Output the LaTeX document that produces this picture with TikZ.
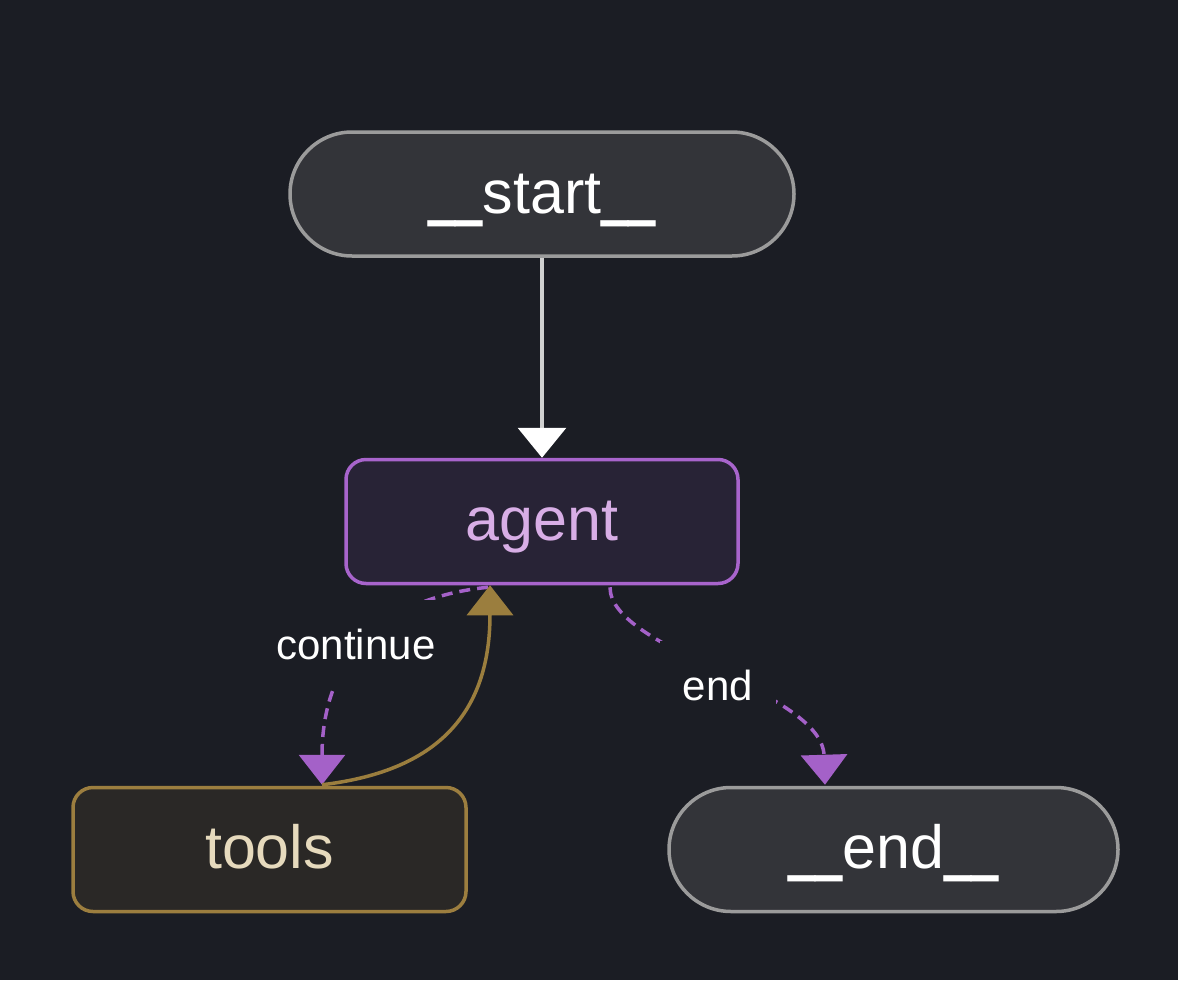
\documentclass[tikz,border=0pt]{standalone}
\usepackage{fontspec}
\usepackage{graphicx}
\setmainfont{Liberation Sans}
\usetikzlibrary{arrows.meta,calc}
\definecolor{bg}{HTML}{1B1D24}
\definecolor{termfill}{HTML}{333439}
\definecolor{termline}{HTML}{9B9B9B}
\definecolor{agentfill}{HTML}{282336}
\definecolor{agentline}{HTML}{A864CC}
\definecolor{agenttext}{HTML}{D8AEE6}
\definecolor{toolfill}{HTML}{2A2826}
\definecolor{toolline}{HTML}{9C7E3F}
\definecolor{tooltext}{HTML}{E6DABD}
\definecolor{purp}{HTML}{A461C8}
\definecolor{gold}{HTML}{9B7E3E}
\definecolor{startedge}{HTML}{D0D0D0}
\newcommand\usc{\raisebox{6pt}{\scalebox{0.8}[1.6]{\_}}}
\tikzset{
  base/.style={inner sep=0pt, line width=3.5pt, font=\fontsize{61}{72}\selectfont, minimum height=124pt, text height=44pt, text depth=6pt},
  terminal/.style={base, rectangle, rounded corners=62pt, fill=termfill, draw=termline, text=white},
  agentbox/.style={base, rectangle, rounded corners=20pt, fill=agentfill, draw=agentline, text=agenttext},
  toolbox/.style={base, rectangle, rounded corners=20pt, fill=toolfill, draw=toolline, text=tooltext},
  elabel/.style={fill=bg, text=white, inner xsep=23pt, inner ysep=0pt, minimum height=88pt, font=\fontsize{42}{50}\selectfont},
  condedge/.style={draw=purp, line width=3.5pt, dash pattern=on 11pt off 7pt, -{Triangle[width=46pt,length=30pt,color=purp,fill=purp]}},
  goldedge/.style={draw=gold, line width=3.5pt, -{Triangle[width=46pt,length=30pt,color=gold,fill=gold]}},
  plainedge/.style={draw=startedge, line width=3.5pt, -{Triangle[width=48pt,length=30pt,color=white,fill=white]}}
}
\begin{document}
\begin{tikzpicture}[x=1pt,y=-1pt]
\useasboundingbox[fill=bg] (0,0) rectangle (1178,980);
\node[terminal, minimum width=504pt] (start) at (542,194) {\usc\usc start\usc\usc};
\node[agentbox, minimum width=392pt] (agent) at (542,521.5) {agent};
\node[toolbox, minimum width=393pt] (tools) at (269.5,849.5) {tools};
\node[terminal, minimum width=449pt] (end) at (893.5,849.5) {\usc\usc end\usc\usc};
\coordinate (aL) at ($(agent.south)+(-54,2)$);
\coordinate (aR) at ($(agent.south)+(68,2)$);
\coordinate (tT) at ($(tools.north)+(52.5,-1)$);
\coordinate (eT) at ($(end.north)+(-68.5,-1)$);
\coordinate (aG) at ($(agent.south)+(-52,0)$);
\draw[plainedge] (start.south) -- (agent.north);
\draw[condedge] (aL) .. controls (380,598) and (322,660) .. (tT);
\draw[condedge] (aR) .. controls (610,650) and (822,690) .. (eT);
\draw[goldedge] (tT) .. controls (430,772) and (490,720) .. (aG);
\node[elabel] (lcont) at (356,644) {continue};
\node[elabel] (lend) at (718,685) {end};
\end{tikzpicture}
\end{document}
